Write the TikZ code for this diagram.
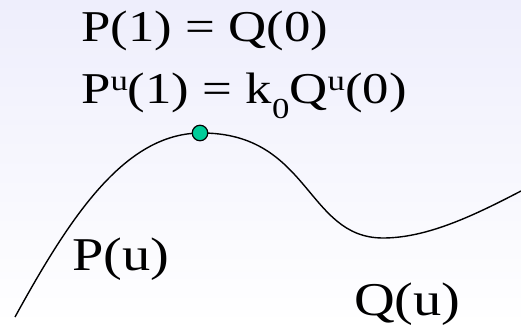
\documentclass[tikz,border=0pt]{standalone}
\usepackage{fontspec}
\setmainfont{Liberation Serif}
\usepackage{graphicx}
\definecolor{bgtop}{RGB}{238,238,252}
\definecolor{dotfill}{RGB}{0,204,153}
\newcommand{\upu}[1]{\raisebox{13pt}{\fontsize{29}{29}\selectfont #1}}
\newcommand{\dnz}[1]{\raisebox{-15pt}{\fontsize{29}{29}\selectfont #1}}
\newcommand{\wide}[1]{\scalebox{1.2}[1]{#1}}
\tikzset{
  eqtext/.style={anchor=base west, inner sep=0pt, font=\fontsize{44}{50}\selectfont},
  lbltext/.style={anchor=base west, inner sep=0pt, font=\fontsize{47}{54}\selectfont},
  curveline/.style={line width=1.4pt, line join=round},
  joint/.style={circle, draw=black, line width=1.2pt, fill=dotfill, minimum size=15.5pt, inner sep=0pt}
}
\begin{document}
\begin{tikzpicture}[x=1pt,y=-1pt]
\shade[top color=bgtop, bottom color=white] (0,0) rectangle (521,326);
\useasboundingbox (0,0) rectangle (521,326);
\coordinate (s) at (15,317);
\coordinate (k) at (200,133);
\coordinate (m) at (383,238);
\coordinate (e) at (521,191);
\draw[curveline] (s) .. controls (71,215) and (125,134) .. (k)
  .. controls (310,132) and (306,238) .. (m)
  .. controls (428,238) and (476,214.4) .. (e);
\node[joint] (j) at (k) {};
\node[eqtext] (eq1) at (81,42) {\wide{P(1) = Q(0)}};
\node[eqtext] (eq2) at (81,103) {\wide{P\upu{u}(1) = k\dnz{0}Q\upu{u}(0)}};
\node[lbltext] (pu) at (72,270) {\wide{P(u)}};
\node[lbltext] (qu) at (354,315) {\wide{Q(u)}};
\end{tikzpicture}
\end{document}
